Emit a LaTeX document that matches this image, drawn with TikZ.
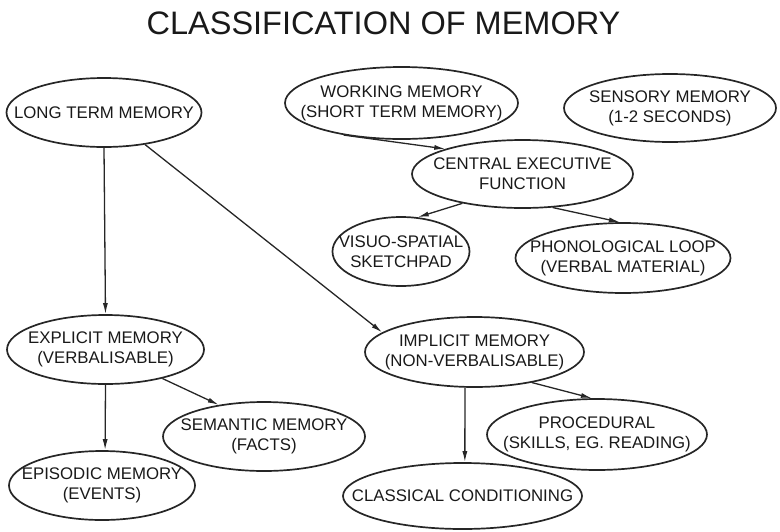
\documentclass[tikz,border=0pt]{standalone}
\usepackage{fontspec}
\setmainfont{Liberation Sans}
\usetikzlibrary{shapes.geometric, arrows.meta}
\newcommand{\memfont}{\fontsize{16.8}{20}\selectfont}
\newcommand{\titlefont}{\fontsize{32.5}{39}\selectfont}

\begin{document}
\begin{tikzpicture}[x=1pt, y=-1pt,
    mem/.style={ellipse, draw=black!85, line width=1.7pt, inner sep=0pt},
    every label/.style={align=center, font=\memfont, text=black!90, inner sep=0pt},
    arr/.style={-{Latex[length=11pt, width=5pt]}, line width=1.3pt, draw=black!85}
]
\useasboundingbox (0,0) rectangle (780,531);

\node[font=\titlefont, text=black!90] (title) at (383.5,23.5) {CLASSIFICATION OF MEMORY};

\node[mem, minimum width=195pt, minimum height=69pt, label={center:LONG TERM MEMORY}] (ltm) at (104,112.5) {};
\node[mem, minimum width=233pt, minimum height=72pt, label={center:WORKING MEMORY\\(SHORT TERM MEMORY)}] (working) at (401.5,103) {};
\node[mem, minimum width=212pt, minimum height=68pt, label={center:SENSORY MEMORY\\(1-2 SECONDS)}] (sensory) at (670,108) {};
\node[mem, minimum width=221pt, minimum height=68pt, label={center:CENTRAL EXECUTIVE\\FUNCTION}] (central) at (522.5,174) {};
\node[mem, minimum width=137pt, minimum height=69pt, label={center:VISUO-SPATIAL\\SKETCHPAD}] (visuo) at (401,251.5) {};
\node[mem, minimum width=215pt, minimum height=70pt, label={center:PHONOLOGICAL LOOP\\(VERBAL MATERIAL)}] (phono) at (623,258) {};

\node[mem, minimum width=197pt, minimum height=69pt, label={center:EXPLICIT MEMORY\\(VERBALISABLE)}] (explicit) at (105.5,349.5) {};
\node[mem, minimum width=202pt, minimum height=69pt, label={center:SEMANTIC MEMORY\\(FACTS)}] (semantic) at (264,436.5) {};
\node[mem, minimum width=186pt, minimum height=69pt, label={center:EPISODIC MEMORY\\(EVENTS)}] (episodic) at (102,485.5) {};
\node[mem, minimum width=219pt, minimum height=70pt, label={center:IMPLICIT MEMORY\\(NON-VERBALISABLE)}] (implicit) at (474.5,352) {};
\node[mem, minimum width=220pt, minimum height=71pt, label={center:{PROCEDURAL\\(SKILLS, EG. READING)}}] (procedural) at (597,434.5) {};
\node[mem, minimum width=239pt, minimum height=66pt, label={center:CLASSICAL CONDITIONING}] (classical) at (462.5,496) {};

\draw[arr] (ltm.south) -- (explicit.north);
\draw[arr] (ltm.-38) -- (implicit.168);
\draw[arr] (working.209) -- (central.162);
\draw[arr] (central.206) -- (visuo.64);
\draw[arr] (central.-48) -- (phono.95);
\draw[arr] (explicit.south) -- (episodic.85);
\draw[arr] (explicit.-27) -- (semantic.145);
\draw[arr] (implicit.-105) -- (classical.86);
\draw[arr] (implicit.-28) -- (procedural.98);
\end{tikzpicture}
\end{document}
